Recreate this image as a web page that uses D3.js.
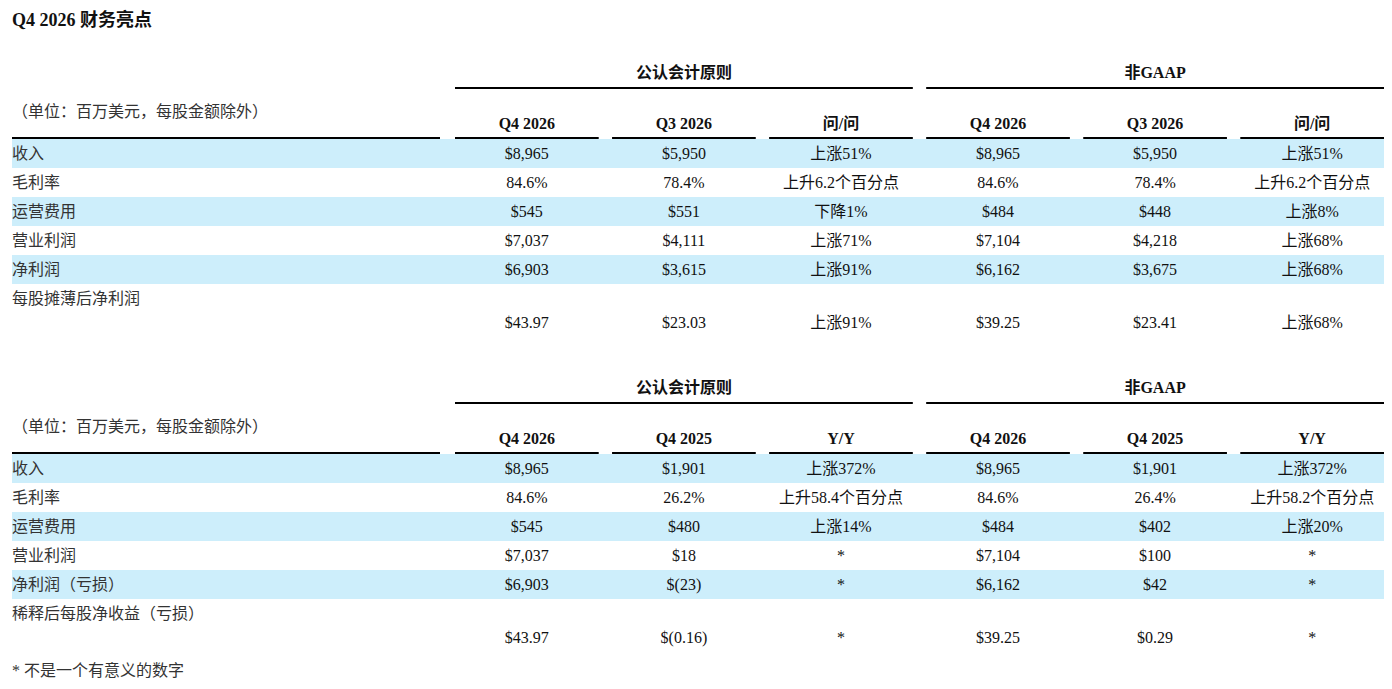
<!DOCTYPE html>
<html><head><meta charset="utf-8">
<script src="https://cdn.jsdelivr.net/npm/d3@7"></script>
<style>
body{margin:0;background:#fff;}
text{font-family:"Liberation Serif","Noto Sans CJK SC",serif;fill:#111;}
</style></head>
<body><div id="chart"></div>
<script>
// Table data
const title = "Q4 2026 财务亮点";
const unitNote = "（单位：百万美元，每股金额除外）";
const groups = ["公认会计原则", "非GAAP"];
const rowLabels1 = ["收入", "毛利率", "运营费用", "营业利润", "净利润", "每股摊薄后净利润"];
const rowLabels2 = ["收入", "毛利率", "运营费用", "营业利润", "净利润（亏损）", "稀释后每股净收益（亏损）"];
const headers1 = ["Q4 2026", "Q3 2026", "问/问", "Q4 2026", "Q3 2026", "问/问"];
const headers2 = ["Q4 2026", "Q4 2025", "Y/Y", "Q4 2026", "Q4 2025", "Y/Y"];
const values1 = [
  ["$8,965", "$5,950", "上涨51%", "$8,965", "$5,950", "上涨51%"],
  ["84.6%", "78.4%", "上升6.2个百分点", "84.6%", "78.4%", "上升6.2个百分点"],
  ["$545", "$551", "下降1%", "$484", "$448", "上涨8%"],
  ["$7,037", "$4,111", "上涨71%", "$7,104", "$4,218", "上涨68%"],
  ["$6,903", "$3,615", "上涨91%", "$6,162", "$3,675", "上涨68%"],
  ["$43.97", "$23.03", "上涨91%", "$39.25", "$23.41", "上涨68%"]
];
const values2 = [
  ["$8,965", "$1,901", "上涨372%", "$8,965", "$1,901", "上涨372%"],
  ["84.6%", "26.2%", "上升58.4个百分点", "84.6%", "26.4%", "上升58.2个百分点"],
  ["$545", "$480", "上涨14%", "$484", "$402", "上涨20%"],
  ["$7,037", "$18", "*", "$7,104", "$100", "*"],
  ["$6,903", "$(23)", "*", "$6,162", "$42", "*"],
  ["$43.97", "$(0.16)", "*", "$39.25", "$0.29", "*"]
];
const footnote = "* 不是一个有意义的数字";

const W = 1392, H = 689;
const svg = d3.select("#chart").append("svg").attr("width", W).attr("height", H);

// Column scale: six data columns
const x = d3.scaleBand().domain(d3.range(6)).range([455, 1384]).paddingInner(0.085);
const band = "#cdeefb";

svg.append("text").attr("x", 12).attr("y", 26)
  .style("font-size", "18px").style("font-weight", "bold").text(title);

function drawTable(top, headers, labels, values) {
  const g = svg.append("g").attr("transform", `translate(0,${top})`);
  const rowH = 29;
  const y = d3.scaleLinear().domain([0, 1]).range([153, 153 + rowH]); // row centres

  // Row bands
  g.selectAll(".band").data(d3.range(5).filter(i => i % 2 === 0)).enter().append("rect")
    .attr("x", 12).attr("width", 1372)
    .attr("y", i => y(i) - 14).attr("height", 29).attr("fill", band);

  // Group headers
  groups.forEach((name, gi) => {
    const x0 = x(gi * 3), x1 = x(gi * 3 + 2) + x.bandwidth();
    g.append("text").attr("x", (x0 + x1) / 2).attr("y", 78).attr("text-anchor", "middle")
      .style("font-size", "16px").style("font-weight", "bold").text(name);
    g.append("line").attr("x1", x0).attr("x2", x1).attr("y1", 88).attr("y2", 88)
      .attr("stroke", "#000").attr("stroke-width", 2);
  });

  g.append("text").attr("x", 12).attr("y", 117).style("font-size", "16px").style("fill", "#333").text(unitNote);

  // Column headers
  headers.forEach((h, i) => {
    g.append("text").attr("x", x(i) + x.bandwidth() / 2).attr("y", 129).attr("text-anchor", "middle")
      .style("font-size", "16px").style("font-weight", "bold").text(h);
    g.append("line").attr("x1", x(i)).attr("x2", x(i) + x.bandwidth()).attr("y1", 138).attr("y2", 138)
      .attr("stroke", "#000").attr("stroke-width", 2);
  });
  g.append("line").attr("x1", 12).attr("x2", 440).attr("y1", 138).attr("y2", 138)
    .attr("stroke", "#000").attr("stroke-width", 2);

  // Row labels
  labels.forEach((lab, r) => {
    g.append("text").attr("x", 12).attr("y", y(r) + 6).style("font-size", "16px").style("fill", "#333").text(lab);
  });

  // Values (last row sits lower, under its wrapped label)
  values.forEach((row, r) => {
    const cy = r === 5 ? y(5) + 24 : y(r);
    row.forEach((v, c) => {
      g.append("text").attr("x", x(c) + x.bandwidth() / 2 + (v === "*" ? 0 : 0)).attr("y", cy + 6)
        .attr("text-anchor", "middle").style("font-size", "16px").text(v);
    });
  });
}

drawTable(0, headers1, rowLabels1, values1);
drawTable(315, headers2, rowLabels2, values2);

svg.append("text").attr("x", 12).attr("y", 676).style("font-size", "16px").style("fill", "#333").text(footnote);
</script>
</body></html>
